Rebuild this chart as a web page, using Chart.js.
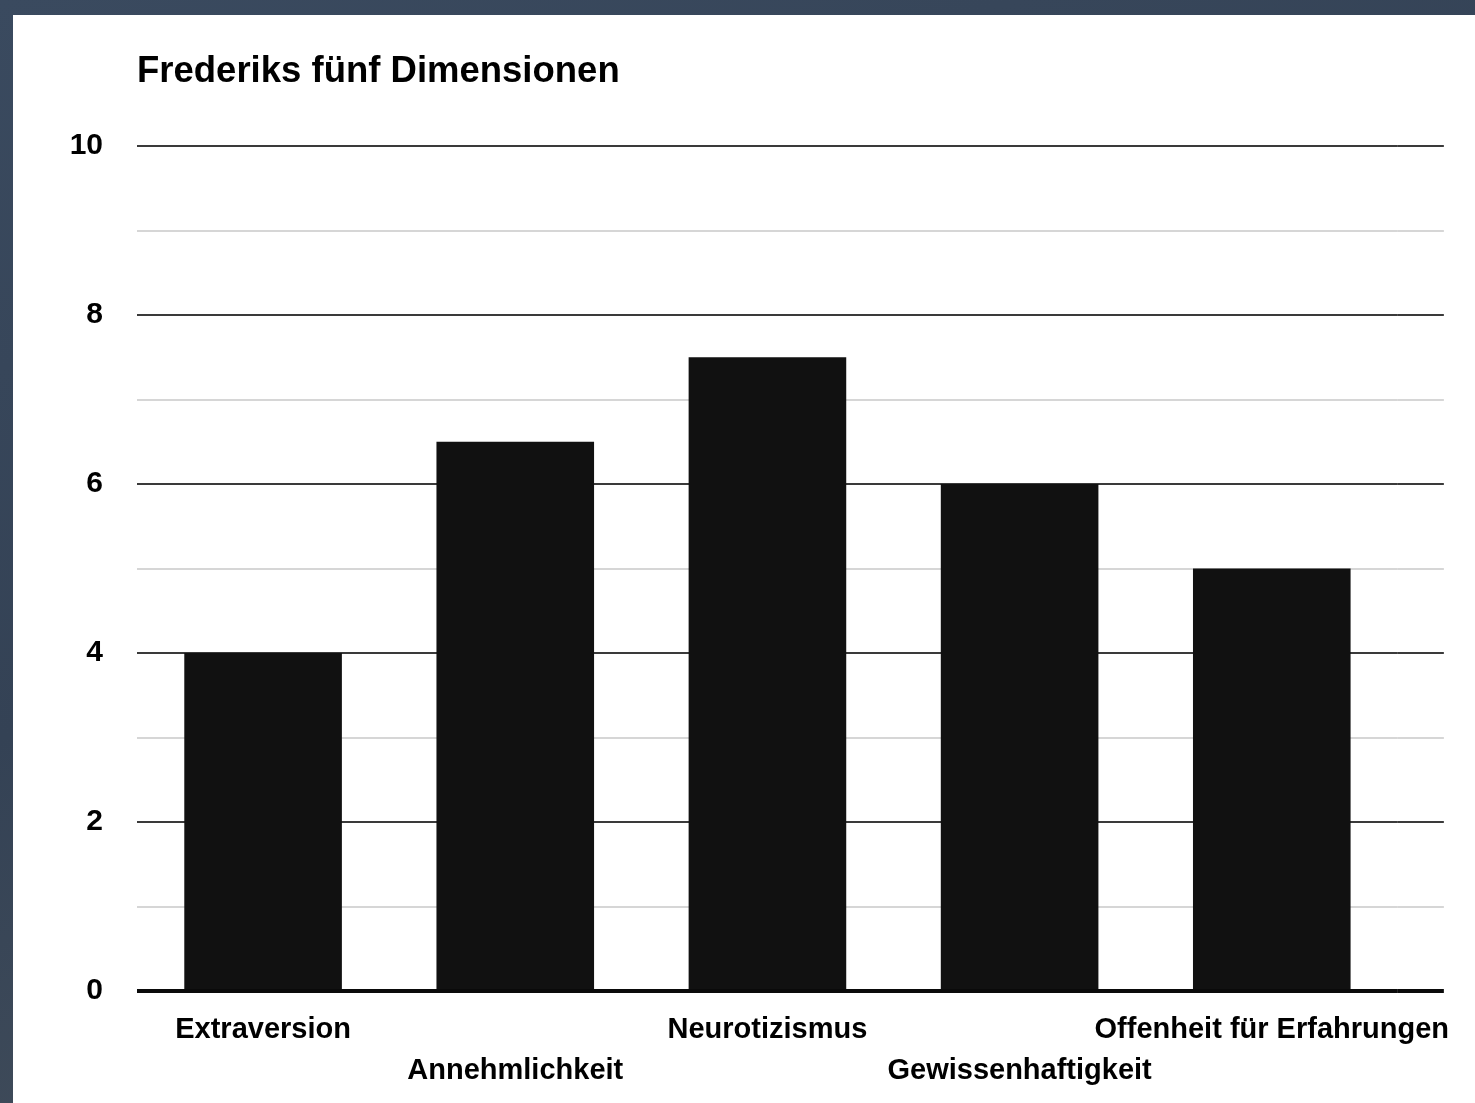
<!DOCTYPE html>
<html>
<head>
<meta charset="utf-8">
<script src="https://cdn.jsdelivr.net/npm/chart.js@4.4.0/dist/chart.umd.min.js"></script>
<style>
  html, body { margin: 0; padding: 0; }
  body {
    width: 1475px; height: 1103px; overflow: hidden; position: relative;
    background: linear-gradient(160deg, #3a4a5f 0%, #344255 45%, #4a545e 100%);
  }
  .panel { position: absolute; left: 13px; top: 15px; right: 0; bottom: 0; background: #fff; }
  #wrap { position: absolute; left: 0; top: 0; width: 1475px; height: 1103px; }
</style>
</head>
<body>
<div class="panel"></div>
<div id="wrap"><canvas id="barChart"></canvas></div>
<script>
const chartTitle = 'Frederiks fünf Dimensionen';
const categories = ['Extraversion', 'Annehmlichkeit', 'Neurotizismus', 'Gewissenhaftigkeit', 'Offenheit für Erfahrungen'];
const scores = [4, 6.5, 7.5, 6, 5];
const yTicks = [0, 2, 4, 6, 8, 10];

const FONT = '"Liberation Sans", Arial, Helvetica, sans-serif';

// second, fourth label go on a second row like in the original
const xLabels = categories.map((c, i) => i % 2 === 1 ? ['', c] : c);

// title drawn aligned with the plot's left edge
const titlePlugin = {
    id: 'leftTitle',
    afterDraw(chart) {
        const ctx = chart.ctx;
        ctx.save();
        ctx.font = 'bold 36.5px ' + FONT;
        ctx.fillStyle = '#000';
        ctx.textAlign = 'left';
        ctx.textBaseline = 'middle';
        ctx.fillText(chartTitle, chart.chartArea.left, 72);
        ctx.restore();
    }
};

// gridlines in the original run a bit past the last bar slot
const gridExtend = {
    id: 'gridExtend',
    beforeDatasetsDraw(chart) {
        const y = chart.scales.y;
        const ctx = chart.ctx;
        const right = chart.chartArea.right + 46;
        ctx.save();
        y.ticks.forEach(t => {
            const py = Math.round(y.getPixelForValue(t.value));
            ctx.beginPath();
            ctx.strokeStyle = gridColor(t.value);
            ctx.lineWidth = gridWidth(t.value);
            ctx.moveTo(chart.chartArea.right, py);
            ctx.lineTo(right, py);
            ctx.stroke();
        });
        ctx.restore();
    }
};

function gridColor(v) {
    if (v === 0) return '#0a0a0a';
    return yTicks.includes(v) ? '#3a3a3a' : '#d6d6d6';
}
function gridWidth(v) {
    if (v === 0) return 4;
    return 2;
}

new Chart(document.getElementById('barChart').getContext('2d'), {
    type: 'bar',
    data: {
        labels: xLabels,
        datasets: [{
            label: chartTitle,
            data: scores,
            backgroundColor: '#111111',
            borderWidth: 0,
            barPercentage: 0.625,
            categoryPercentage: 1
        }]
    },
    options: {
        responsive: true,
        maintainAspectRatio: false,
        animation: false,
        layout: { padding: { top: 146, right: 70, bottom: 0, left: 0 } },
        plugins: {
            legend: { display: false },
            title: { display: false },
            tooltip: { enabled: false }
        },
        scales: {
            x: {
                grid: { display: false, drawTicks: false },
                border: { display: false },
                ticks: {
                    color: '#000',
                    font: { family: FONT, size: 29, weight: 'bold', lineHeight: 1.4 },
                    padding: 19,
                    maxRotation: 0,
                    autoSkip: false
                },
                afterFit(scale) { scale.height = 112; }
            },
            y: {
                min: 0,
                max: 10,
                grid: {
                    drawTicks: false,
                    color: ctx => gridColor(ctx.tick.value),
                    lineWidth: ctx => gridWidth(ctx.tick.value)
                },
                border: { display: false },
                ticks: {
                    stepSize: 1,
                    color: '#000',
                    padding: 34,
                    font: { family: FONT, size: 30, weight: 'bold' },
                    callback: v => yTicks.includes(v) ? String(v) : ''
                },
                afterFit(scale) { scale.width = 137; }
            }
        }
    },
    plugins: [titlePlugin, gridExtend]
});
</script>
</body>
</html>
